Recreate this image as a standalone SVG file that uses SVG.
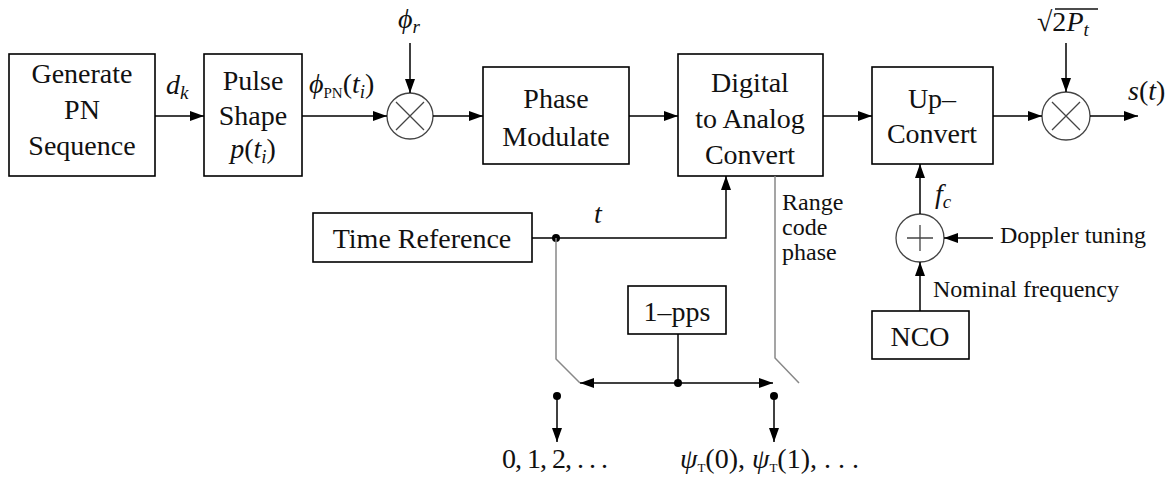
<svg xmlns="http://www.w3.org/2000/svg" width="1170" height="477" viewBox="0 0 1170 477">
<defs>
<marker id="ah" markerWidth="14" markerHeight="10" refX="14" refY="5" orient="auto" markerUnits="userSpaceOnUse">
<path d="M0,0 L14,5 L0,10 Z" fill="#000"/>
</marker>
<marker id="ahs" markerWidth="14" markerHeight="10" refX="0" refY="5" orient="auto" markerUnits="userSpaceOnUse">
<path d="M14,0 L0,5 L14,10 Z" fill="#000"/>
</marker>
<style>
.box{fill:#fff;stroke:#000;stroke-width:1.6}
.circ{fill:#fff;stroke:#444;stroke-width:1.3}
.op{stroke:#444;stroke-width:1.3;fill:none}
.ln{stroke:#000;stroke-width:1.5;fill:none}
.ar{stroke:#000;stroke-width:1.5;fill:none;marker-end:url(#ah)}
.gr{stroke:#888;stroke-width:1.5;fill:none}
.dot{fill:#000}
text{font-family:'Liberation Serif','Times New Roman',serif;fill:#111}
.t{font-size:28px;text-anchor:middle}
.s{font-size:24px}
.m{font-size:28px;font-style:italic}
.up{font-style:normal}
</style>
</defs>
<g id="generate">
<rect class="box" x="9" y="54" width="146" height="122"/>
<text class="t" x="82" y="83">Generate</text>
<text class="t" x="82" y="119">PN</text>
<text class="t" x="82" y="155">Sequence</text>
</g>
<g id="pulse">
<rect class="box" x="204" y="54" width="98" height="122"/>
<text class="t" x="253" y="90">Pulse</text>
<text class="t" x="253" y="125">Shape</text>
<text class="m" x="253" y="158" text-anchor="middle">p<tspan class="up">(</tspan>t<tspan font-size="19" dy="5">i</tspan><tspan class="up" dy="-5">)</tspan></text>
</g>
<g id="mult1">
<circle class="circ" cx="410" cy="116" r="23"/>
<path class="op" d="M396,102 L424,130 M424,102 L396,130"/>
</g>
<g id="phasemod">
<rect class="box" x="483" y="67" width="146" height="97"/>
<text class="t" x="556" y="108">Phase</text>
<text class="t" x="556" y="146">Modulate</text>
</g>
<g id="dac">
<rect class="box" x="678" y="54" width="145" height="122"/>
<text class="t" x="750" y="92">Digital</text>
<text class="t" x="750" y="128">to Analog</text>
<text class="t" x="750" y="164">Convert</text>
</g>
<g id="upconvert">
<rect class="box" x="872" y="67" width="121" height="97"/>
<text class="t" x="932" y="108">Up–</text>
<text class="t" x="932" y="143">Convert</text>
</g>
<g id="mult2">
<circle class="circ" cx="1066" cy="116" r="24"/>
<path class="op" d="M1052,102 L1080,130 M1080,102 L1052,130"/>
</g>
<g id="timeref">
<rect class="box" x="313" y="213" width="219" height="49"/>
<text class="t" x="422" y="248">Time Reference</text>
</g>
<g id="pps">
<rect class="box" x="628" y="286" width="98" height="48"/>
<text class="t" x="677" y="321">1–pps</text>
</g>
<g id="adder">
<circle class="circ" cx="920" cy="238" r="24"/>
<path class="op" d="M907,238 L933,238 M920,225 L920,251"/>
</g>
<g id="nco">
<rect class="box" x="872" y="311" width="97" height="48"/>
<text class="t" x="920" y="346">NCO</text>
</g>
<g id="connectors">
<path class="ar" d="M155,116 L204,116"/>
<path class="ar" d="M302,116 L387,116"/>
<path class="ar" d="M410,43 L410,93"/>
<path class="ar" d="M433,116 L483,116"/>
<path class="ar" d="M629,116 L678,116"/>
<path class="ar" d="M823,116 L872,116"/>
<path class="ar" d="M993,116 L1042,116"/>
<path class="ar" d="M1066,43 L1066,92"/>
<path class="ar" d="M1090,116 L1138,116"/>
<path class="ar" d="M532,238 L726,238 L726,176"/>
<circle class="dot" cx="556" cy="238" r="4"/>
<path class="gr" d="M556,238 L556,359 L580,383"/>
<path class="gr" d="M775,176 L775,358 L799,383"/>
<path class="ln" d="M678,334 L678,383"/>
<circle class="dot" cx="678" cy="383" r="4"/>
<path class="ln" d="M580,383 L773,383" marker-start="url(#ahs)" marker-end="url(#ah)"/>
<circle class="dot" cx="557" cy="396" r="4"/>
<path class="ar" d="M557,396 L557,442"/>
<circle class="dot" cx="774" cy="396" r="4"/>
<path class="ar" d="M774,396 L774,442"/>
<path class="ar" d="M920,311 L920,262"/>
<path class="ar" d="M920,214 L920,164"/>
<path class="ar" d="M993,238 L944,238"/>
</g>
<g id="labels">
<text class="m" x="166" y="94">d<tspan font-size="19" dy="5">k</tspan></text>
<text class="m" x="309" y="93">ϕ<tspan class="up" font-size="15" dy="5">PN</tspan><tspan class="up" dy="-5">(</tspan>t<tspan font-size="19" dy="5">i</tspan><tspan class="up" dy="-5">)</tspan></text>
<text class="m" x="398" y="28">ϕ<tspan font-size="19" dy="5">r</tspan></text>
<text class="m" x="1037" y="31"><tspan class="up">√2</tspan>P<tspan font-size="19" dy="5">t</tspan></text>
<line x1="1055" y1="9" x2="1098" y2="9" stroke="#111" stroke-width="1.4"/>
<text class="m" x="1128" y="100">s<tspan class="up">(</tspan>t<tspan class="up">)</tspan></text>
<text class="m" x="594" y="223">t</text>
<text class="m" x="935" y="203">f<tspan font-size="19" dy="5">c</tspan></text>
<text class="s" x="782" y="210">Range</text>
<text class="s" x="782" y="235">code</text>
<text class="s" x="782" y="260">phase</text>
<text class="s" x="1000" y="243">Doppler tuning</text>
<text class="s" x="933" y="297">Nominal frequency</text>
<text class="m up" x="502" y="468" textLength="106" lengthAdjust="spacing">0, 1, 2, . . .</text>
<text class="m" x="680" y="468">ψ<tspan class="up" font-size="13" dy="4">T</tspan><tspan class="up" dy="-4">(0), </tspan>ψ<tspan class="up" font-size="13" dy="4">T</tspan><tspan class="up" dy="-4">(1), . . .</tspan></text>
</g>
</svg>
